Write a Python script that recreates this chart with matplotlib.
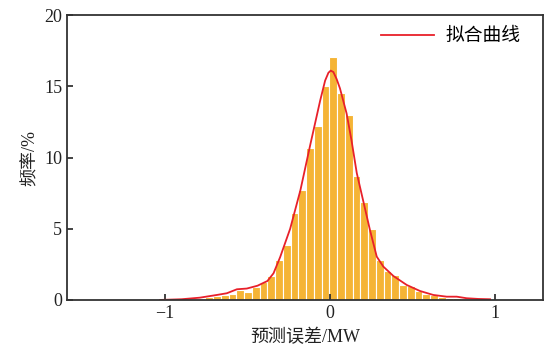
import numpy as np
import matplotlib
matplotlib.use('Agg')
import matplotlib.pyplot as plt

# histogram of prediction error: 60 bins from -1.555 MW, bin width 0.047 MW
bin_start = -1.555
bin_width = 0.047
freq = [0.05, 0, 0, 0, 0, 0, 0, 0, 0, 0,
        0, 0, 0, 0, 0, 0.05, 0.1, 0.19, 0.26, 0.33,
        0.42, 0.73, 0.58, 0.89, 1.24, 1.68, 2.81, 3.86, 6.1, 7.72,
        10.69, 12.21, 15.04, 17.03, 14.55, 13.01, 8.7, 6.88, 4.98, 2.81,
        2.06, 1.75, 1.03, 1.01, 0.63, 0.44, 0.33, 0.19, 0.17, 0.15,
        0.08, 0.05, 0, 0, 0, 0, 0, 0, 0, 0.05]

# fitted density curve
fit_x = [-1.03, -0.9, -0.79, -0.687, -0.626, -0.565, -0.505, -0.44, -0.38, -0.343,
         -0.303, -0.242, -0.18, -0.12, -0.06, -0.03, -0.01, 0.004, 0.02, 0.04,
         0.06, 0.10, 0.13, 0.162, 0.202, 0.242, 0.283, 0.323, 0.384, 0.465,
         0.545, 0.626, 0.707, 0.768, 0.828, 0.9, 0.97]
fit_y = [0.0, 0.05, 0.16, 0.35, 0.47, 0.75, 0.8, 1.0, 1.33, 1.87,
         3.0, 5.0, 7.7, 10.9, 14.0, 15.4, 15.95, 16.1, 16.0, 15.5,
         14.85, 13.1, 11.2, 8.9, 6.9, 4.9, 3.04, 2.34, 1.68, 1.05,
         0.63, 0.35, 0.23, 0.23, 0.12, 0.07, 0.05]

plt.rcParams['font.family'] = ['Liberation Serif', 'Noto Sans CJK SC']
plt.rcParams['axes.unicode_minus'] = True

fig = plt.figure(figsize=(5.45, 3.5), dpi=100)
ax = fig.add_axes([0.123, 0.143, 0.873, 0.814])

left_edges = bin_start + bin_width * np.arange(len(freq))
ax.bar(left_edges, freq, width=bin_width, align='edge',
       color='#F5B435', edgecolor='white', linewidth=0.8)
ax.plot(fit_x, fit_y, color='#E8202A', linewidth=1.3, label='拟合曲线')

ax.set_xlim(-1.595, 1.29)
ax.set_ylim(0, 20)
ax.set_xticks([-1, 0, 1])
ax.set_yticks([0, 5, 10, 15, 20])
ax.tick_params(direction='in', length=4.5, width=1.2, labelsize=13, colors='#222222')
for s in ax.spines.values():
    s.set_linewidth(1.3)
    s.set_color('#333333')

ax.set_xlabel('预测误差/MW', fontsize=13, color='#222222', labelpad=5)
ax.set_ylabel('频率/%', fontsize=13, color='#222222', labelpad=4)

leg = ax.legend(loc='upper right', frameon=False, fontsize=13.5,
                handlelength=2.8, handletextpad=0.6,
                bbox_to_anchor=(0.98, 1.0), borderaxespad=0.3)

fig.savefig('out.png', dpi=100)
